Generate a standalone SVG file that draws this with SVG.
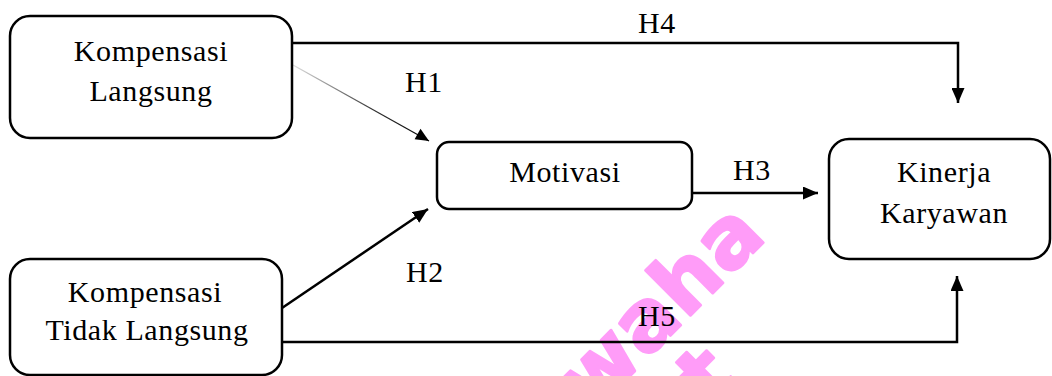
<svg xmlns="http://www.w3.org/2000/svg" width="1052" height="376" viewBox="0 0 1052 376">
  <style>
    .box { fill: #ffffff; stroke: #000000; stroke-width: 2.5; }
    .label { font-family: "Liberation Serif", "Times New Roman", serif; font-size: 30px; fill: #000000; text-anchor: middle; letter-spacing: 0.6px; }
    .edge { fill: none; stroke: #000000; stroke-width: 2.5; }
    .thin { fill: none; stroke: url(#fade); stroke-width: 1.3; }
    .mark { font-family: "DejaVu Sans", "Liberation Sans", sans-serif; font-weight: bold; font-size: 84px; fill: #ff9cf8; stroke: #ff9cf8; stroke-width: 2.5; stroke-linejoin: round; }
  </style>
  <defs>
    <marker id="arrow" markerUnits="userSpaceOnUse" markerWidth="15" markerHeight="13" refX="15" refY="6.5" orient="auto">
      <path d="M0,0 L15,6.5 L0,13 Z" fill="#000000"/>
    </marker>
    <linearGradient id="fade" gradientUnits="userSpaceOnUse" x1="293" y1="65" x2="429" y2="141">
      <stop offset="0" stop-color="#e0e0e0"/>
      <stop offset="0.6" stop-color="#333333"/>
      <stop offset="1" stop-color="#000000"/>
    </linearGradient>
  </defs>

  <rect width="1052" height="376" fill="#ffffff"/>

  <!-- background stamp -->
  <g id="stamp">
    <text class="mark" transform="translate(768,238) rotate(-45)" text-anchor="end">waha</text>
    <text class="mark" transform="translate(712,410) rotate(-45)">t</text>
  </g>

  <!-- connectors -->
  <g id="connectors">
    <polyline id="h4" class="edge" points="292,43 958,43 958,103" marker-end="url(#arrow)"/>
    <line id="h1" class="thin" x1="293" y1="65" x2="429" y2="141"/>
    <path d="M429,141 L414.6,139.3 L420.5,128.8 Z" fill="#000000"/>
    <line id="h2" class="edge" x1="282" y1="308" x2="428" y2="209" marker-end="url(#arrow)"/>
    <line id="h3" class="edge" x1="692" y1="193" x2="818" y2="193" marker-end="url(#arrow)"/>
    <polyline id="h5" class="edge" points="282,342 957,342 957,276" marker-end="url(#arrow)"/>
    <text class="label" x="657" y="33">H4</text>
    <text class="label" x="424" y="92">H1</text>
    <text class="label" x="752" y="180">H3</text>
    <text class="label" x="425" y="282">H2</text>
    <text class="label" x="657" y="326">H5</text>
  </g>

  <g id="kompensasi-langsung">
    <rect class="box" x="10" y="16" width="282" height="122" rx="20"/>
    <text class="label" x="151" y="61">Kompensasi</text>
    <text class="label" x="151" y="101">Langsung</text>
  </g>

  <g id="kompensasi-tidak-langsung">
    <rect class="box" x="10" y="259" width="272" height="116" rx="20"/>
    <text class="label" x="145" y="302">Kompensasi</text>
    <text class="label" x="147" y="340">Tidak Langsung</text>
  </g>

  <g id="motivasi">
    <rect class="box" x="437" y="142" width="255" height="67" rx="12"/>
    <text class="label" x="565" y="182">Motivasi</text>
  </g>

  <g id="kinerja-karyawan">
    <rect class="box" x="829" y="139" width="221" height="120" rx="20"/>
    <text class="label" x="944" y="182">Kinerja</text>
    <text class="label" x="944" y="223">Karyawan</text>
  </g>
</svg>
